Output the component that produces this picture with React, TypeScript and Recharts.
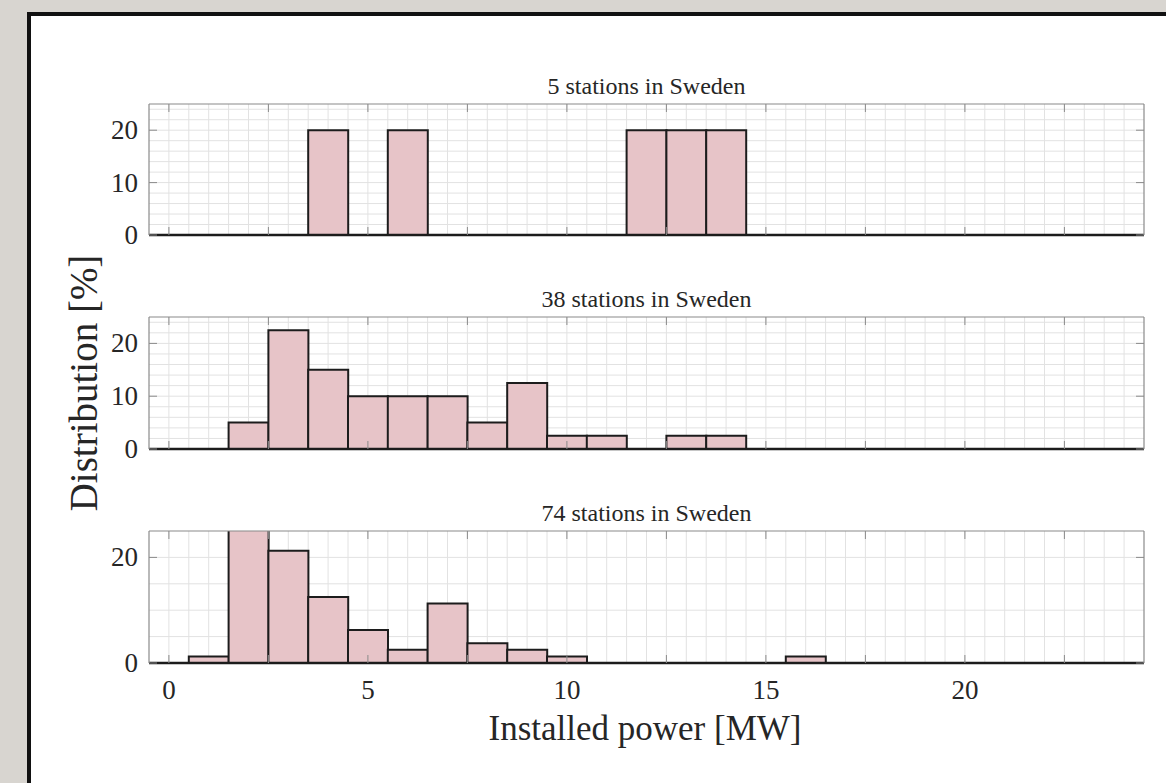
import React from 'react';
import { BarChart, Bar, XAxis, YAxis, CartesianGrid, ReferenceLine } from 'recharts';

// Histogram bins (1 MW wide, centred on whole megawatts)
const BIN_CENTERS = [0, 1, 2, 3, 4, 5, 6, 7, 8, 9, 10, 11, 12, 13, 14, 15, 16, 17, 18, 19, 20, 21, 22, 23, 24];

// Share of stations per bin [%]
const SHARE_5 = [0, 0, 0, 0, 20, 0, 20, 0, 0, 0, 0, 0, 20, 20, 20, 0, 0, 0, 0, 0, 0, 0, 0, 0, 0];
const SHARE_38 = [0, 0, 5, 22.5, 15, 10, 10, 10, 5, 12.5, 2.5, 2.5, 0, 2.5, 2.5, 0, 0, 0, 0, 0, 0, 0, 0, 0, 0];
const SHARE_74 = [0, 1.25, 36.25, 21.25, 12.5, 6.25, 2.5, 11.25, 3.75, 2.5, 1.25, 0, 0, 0, 0, 0, 1.25, 0, 0, 0, 0, 0, 0, 0, 0];

const PANEL_TITLES = ['5 stations in Sweden', '38 stations in Sweden', '74 stations in Sweden'];

const X_DOMAIN: [number, number] = [-0.5, 24.5];
const Y_DOMAIN: [number, number] = [0, 25];
const X_TICKS = [0, 2.5, 5, 7.5, 10, 12.5, 15, 17.5, 20, 22.5];
const X_TICK_LABELS = [0, 5, 10, 15, 20];
const Y_TICKS_FULL = [0, 10, 20];
const Y_TICKS_SPARSE = [0, 20];
const Y_GRID_FINE = [2, 4, 6, 8, 10, 12, 14, 16, 18, 20, 22, 24];
const Y_GRID_COARSE = [5, 10, 15, 20];
const X_GRID = Array.from({ length: 49 }, (_, i) => i * 0.5);

const X_LABEL = 'Installed power [MW]';
const Y_LABEL = 'Distribution [%]';

const W = 1166;
const H = 783;
const FONT = '"Liberation Serif", "Times New Roman", serif';
const TEXT = '#262626';
const FRAME = '#8a8a8a';
const GRID = '#e2e2e2';
const BAR_FILL = '#e7c4c8';
const BAR_EDGE = '#1c1c1c';
const TICK_LEN = 8;

const BottomTick = (p: any) => {
  const { x, y, payload, labeled } = p;
  const v = payload.value;
  return (
    <g>
      <line x1={x} x2={x} y1={y} y2={y - TICK_LEN} stroke={FRAME} strokeWidth={1} />
      {labeled && X_TICK_LABELS.includes(v) ? (
        <text x={x} y={y + 36} textAnchor="middle" fontFamily={FONT} fontSize={27} fill={TEXT}>
          {v}
        </text>
      ) : null}
    </g>
  );
};

const TopTick = (p: any) => {
  const { x, y } = p;
  return <line x1={x} x2={x} y1={y} y2={y + TICK_LEN} stroke={FRAME} strokeWidth={1} />;
};

const LeftTick = (p: any) => {
  const { x, y, payload } = p;
  return (
    <g>
      <line x1={x} x2={x + TICK_LEN} y1={y} y2={y} stroke={FRAME} strokeWidth={1} />
      <text x={x - 11} y={y + 9} textAnchor="end" fontFamily={FONT} fontSize={27} fill={TEXT}>
        {payload.value}
      </text>
    </g>
  );
};

const RightTick = (p: any) => {
  const { x, y } = p;
  return <line x1={x} x2={x - TICK_LEN} y1={y} y2={y} stroke={FRAME} strokeWidth={1} />;
};

type PanelProps = {
  values: number[];
  top: number;
  bottom: number;
  yTicks: number[];
  yGrid: number[];
  labeled: boolean;
};

function Panel({ values, top, bottom, yTicks, yGrid, labeled }: PanelProps) {
  const rows = BIN_CENTERS.map((bin, i) => ({ bin, share: values[i] }));
  return (
    <div style={{ position: 'absolute', left: 0, top: 0 }}>
      <BarChart
        width={W}
        height={H}
        data={rows}
        margin={{ top: top - 1, right: 21, bottom: H - bottom - 1, left: 109 }}
        barCategoryGap={0}
        barGap={0}
      >
        <XAxis xAxisId="bins" dataKey="bin" type="category" height={0} hide />
        <XAxis
          xAxisId="power"
          dataKey="bin"
          type="number"
          domain={X_DOMAIN}
          allowDataOverflow
          ticks={X_TICKS}
          interval={0}
          height={1}
          axisLine={false}
          tickLine={false}
          tickSize={0}
          tickMargin={0}
          tick={(p: any) => <BottomTick {...p} labeled={labeled} />}
        />
        <XAxis
          xAxisId="frameTop"
          dataKey="bin"
          orientation="top"
          type="number"
          domain={X_DOMAIN}
          allowDataOverflow
          ticks={X_TICKS}
          interval={0}
          height={1}
          axisLine={{ stroke: FRAME, strokeWidth: 1.2 }}
          tickLine={false}
          tickSize={0}
          tickMargin={0}
          tick={(p: any) => <TopTick {...p} />}
        />
        <YAxis
          yAxisId="share"
          type="number"
          domain={Y_DOMAIN}
          allowDataOverflow
          ticks={yTicks}
          interval={0}
          width={40}
          axisLine={{ stroke: FRAME, strokeWidth: 1.2 }}
          tickLine={false}
          tickSize={0}
          tickMargin={0}
          tick={(p: any) => <LeftTick {...p} />}
        />
        <YAxis
          yAxisId="frameRight"
          orientation="right"
          type="number"
          domain={Y_DOMAIN}
          allowDataOverflow
          ticks={yTicks}
          interval={0}
          width={1}
          axisLine={{ stroke: FRAME, strokeWidth: 1.2 }}
          tickLine={false}
          tickSize={0}
          tickMargin={0}
          tick={(p: any) => <RightTick {...p} />}
        />
        <CartesianGrid
          xAxisId="power"
          yAxisId="share"
          verticalValues={X_GRID}
          horizontalValues={yGrid}
          stroke={GRID}
          strokeWidth={1}
        />
        <Bar
          xAxisId="bins"
          yAxisId="share"
          dataKey="share"
          fill={BAR_FILL}
          stroke={BAR_EDGE}
          strokeWidth={2}
          isAnimationActive={false}
        />
        <ReferenceLine xAxisId="power" yAxisId="share" y={0} stroke={BAR_EDGE} strokeWidth={2.5} />
      </BarChart>
    </div>
  );
}

export default function App() {
  const panels = [
    { values: SHARE_5, top: 104, bottom: 235, yTicks: Y_TICKS_FULL, yGrid: Y_GRID_FINE, labeled: false },
    { values: SHARE_38, top: 317, bottom: 449, yTicks: Y_TICKS_FULL, yGrid: Y_GRID_FINE, labeled: false },
    { values: SHARE_74, top: 531, bottom: 663, yTicks: Y_TICKS_SPARSE, yGrid: Y_GRID_COARSE, labeled: true },
  ];
  const centerX = (149 + 1144) / 2;
  return (
    <div
      style={{
        position: 'absolute',
        left: 0,
        top: 0,
        width: W,
        height: H,
        background: '#d8d5d0',
        overflow: 'hidden',
      }}
    >
      <div
        style={{
          position: 'absolute',
          left: 27,
          top: 12,
          right: 0,
          bottom: 0,
          background: '#ffffff',
          borderLeft: '4px solid #111',
          borderTop: '4px solid #111',
        }}
      />
      {panels.map((pn, i) => (
        <Panel key={i} {...pn} />
      ))}
      <svg width={W} height={H} style={{ position: 'absolute', left: 0, top: 0, pointerEvents: 'none' }}>
        {panels.map((pn, i) => (
          <text
            key={i}
            x={centerX}
            y={pn.top - 10}
            textAnchor="middle"
            fontFamily={FONT}
            fontSize={24}
            fill={TEXT}
          >
            {PANEL_TITLES[i]}
          </text>
        ))}
        <text
          x={97}
          y={383}
          transform="rotate(-90, 97, 383)"
          textAnchor="middle"
          fontFamily={FONT}
          fontSize={39}
          fill={TEXT}
        >
          {Y_LABEL}
        </text>
        <text x={645} y={740} textAnchor="middle" fontFamily={FONT} fontSize={35} fill={TEXT}>
          {X_LABEL}
        </text>
      </svg>
    </div>
  );
}
